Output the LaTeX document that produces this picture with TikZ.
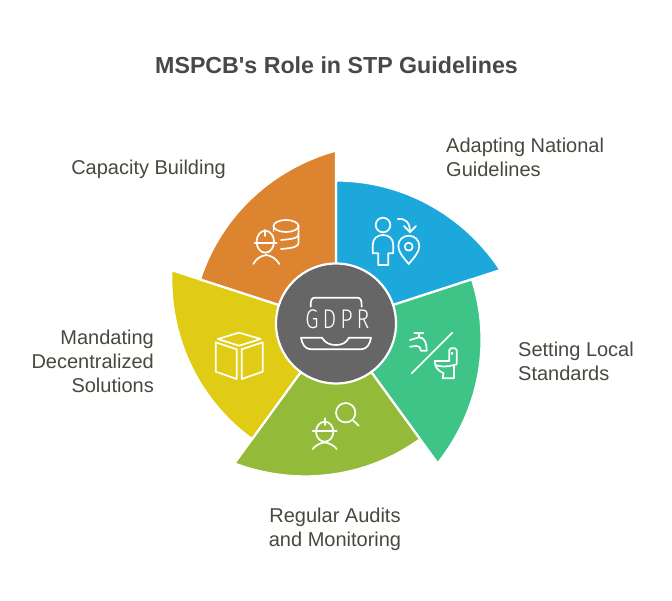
\documentclass[tikz,border=0pt]{standalone}
\usepackage{fontspec}
\setmainfont{Liberation Sans}
\newfontfamily\plainfont{Liberation Sans}
\newfontfamily\gdprfont{Fira Sans Light}
\definecolor{cOrange}{HTML}{DD8431}
\definecolor{cBlue}{HTML}{1DA8DC}
\definecolor{cGreen}{HTML}{3EC487}
\definecolor{cOlive}{HTML}{93BA38}
\definecolor{cYellow}{HTML}{E0CC14}
\definecolor{cGray}{HTML}{666666}
\definecolor{cTitle}{HTML}{484848}
\definecolor{cLabel}{HTML}{4A483E}
\tikzset{
  wedgeshape/.style={draw=white,line width=2.2pt,line join=round},
  icon/.style={draw=white,line width=1.7pt,line cap=round,line join=round,fill=none},
  lab/.style={text=cLabel,font=\fontsize{20}{24}\selectfont,inner sep=0pt},
}
\newcommand{\petal}[2]{%
  \fill[#2] (336,323.5) -- plot[domain=0:1,samples=40,variable=\t]
    ({336+(143+30*\t*\t)*cos(#1-72*\t)},{323.5-(143+30*\t*\t)*sin(#1-72*\t)}) -- cycle;
  \draw[wedgeshape] (336,323.5) -- plot[domain=0:1,samples=40,variable=\t]
    ({336+(143+30*\t*\t)*cos(#1-72*\t)},{323.5-(143+30*\t*\t)*sin(#1-72*\t)}) -- cycle;
}
\begin{document}
\begin{tikzpicture}[x=1pt,y=-1pt]
\useasboundingbox[fill=white] (0,0) rectangle (672,601);
\petal{90}{cBlue}
\petal{18}{cGreen}
\petal{-54}{cOlive}
\petal{-126}{cYellow}
\petal{162}{cOrange}
\node[circle,fill=cGray,draw=white,line width=2.2pt,minimum size=120pt,inner sep=0pt] (hub) at (336,323.5) {};
% laptop
\draw[icon] (310.7,306.7) .. controls (310.7,300) and (311.5,297.7) .. (315,297.7) -- (357.3,297.7) .. controls (360.8,297.7) and (361.7,300) .. (361.7,306.7);
\node[text=white,xscale=.8,font=\gdprfont\fontsize{27}{28}\selectfont,inner sep=0pt] (gdpr) at (337.3,319.5) {G\hspace{5pt}D\hspace{5pt}P\hspace{5pt}R};
\draw[icon] (301,337.7) -- (322,337.7) .. controls (325,343) and (330,345) .. (336,345) .. controls (342,345) and (346,343) .. (349,337.7) -- (371,337.7) .. controls (370,344) and (367,349.3) .. (361,349.3) -- (311,349.3) .. controls (305,349.3) and (302,344) .. (301,337.7);
% blue icon
\draw[icon] (383,225) circle[radius=7.3];
\draw[icon] (378.3,253.3) -- (378.3,265) -- (388.3,265) -- (388.3,253.3) -- (393.3,253.3) -- (393.3,245) .. controls (393.3,238) and (388,235) .. (383,235) .. controls (378,235) and (372.7,238) .. (372.7,245) -- (372.7,253.3) -- cycle;
\draw[icon] (408.7,264) .. controls (403,257) and (398.3,252) .. (398.3,246) .. controls (398.3,240) and (403,235.7) .. (408.7,235.7) .. controls (414.5,235.7) and (419.3,240) .. (419.3,246) .. controls (419.3,252) and (414.5,257) .. (408.7,264) -- cycle;
\draw[icon] (408.7,246.7) circle[radius=4];
\draw[icon] (397.7,219) .. controls (405,218) and (410,222) .. (410,232);
\draw[icon] (404,226) -- (410,232.3) -- (416,226);
% green icon
\draw[icon] (411.7,373.3) -- (452.3,332.7);
\draw[icon] (414.3,333.3) -- (423.3,333.3) (419,333.3) -- (419,337.3);
\draw[icon] (410,340) -- (419,337.3) .. controls (424,337.3) and (426.7,342) .. (426.7,350.7) -- (420.7,350.7) .. controls (420.7,347) and (418,345.5) .. (416,346) -- (410,346.7);
\draw[icon] (449.3,361) -- (449.3,350) .. controls (449.3,348.8) and (450,348.3) .. (451,348.3) -- (455,348.3) .. controls (456,348.3) and (456.7,348.8) .. (456.7,350) -- (456.7,363.5) .. controls (456.7,364.5) and (456,365) .. (454,365) -- (454,378.3) -- (442.7,378.3) -- (443.5,373) .. controls (438,371) and (434.7,367) .. (434.7,361) -- (449.3,361);
\draw[icon] (435.5,365) .. controls (440,367) and (448,367) .. (454,365);
\draw[icon] (452,353.3) circle[radius=.6];
% olive icon
\draw[icon] (345.7,412.7) circle[radius=9.7];
\draw[icon] (352.7,420) -- (358.7,425.7);
\draw[icon] (324.7,431.7) ellipse[x radius=8.7,y radius=10];
\draw[icon] (312.7,431) -- (336.7,431) (324.7,418.3) -- (324.7,425);
\draw[icon] (312.7,449) .. controls (316,445) and (320,443) .. (324.7,442.5) .. controls (329,443) and (333.5,445) .. (336.7,449);
% yellow icon
\draw[icon] (217.7,339) -- (239,332.7) -- (260.7,339) -- (239,345.7) -- cycle;
\draw[icon] (215.7,342.3) -- (236.7,349.3) -- (236.7,379) -- (215.7,371.7) -- cycle;
\draw[icon] (241.7,349.3) -- (262.7,342.3) -- (262.7,371.7) -- (241.7,379) -- cycle;
% orange icon
\draw[icon] (286,226) ellipse[x radius=12.5,y radius=6];
\draw[icon] (298.5,226) -- (298.5,243) .. controls (298.5,246) and (295,248) .. (281,249);
\draw[icon] (298.5,234.5) .. controls (298.5,238) and (293,239) .. (281,240);
\draw[icon] (273.5,226) -- (273.5,231);
\draw[icon] (265.3,241.7) ellipse[x radius=8.7,y radius=11];
\draw[icon] (254.7,242.7) -- (276.7,242.7) (265.3,230) -- (265.3,236);
\draw[icon] (253.3,264) .. controls (256,259) and (260,256) .. (266.3,255) .. controls (272,256) and (276.5,259) .. (279.3,264);
% text
\node[text=cTitle,font=\plainfont\bfseries\fontsize{23.2}{28}\selectfont,inner sep=0pt] (title) at (336.5,65) {MSPCB's Role in STP Guidelines};
\node[lab,align=left,anchor=west] (l1) at (446,157) {Adapting National\\Guidelines};
\node[lab,align=left,anchor=west] (l2) at (518,361) {Setting Local\\Standards};
\node[lab,align=center] (l3) at (335,529) {Regular Audits\\and Monitoring};
\node[lab,align=right,anchor=east] (l4) at (154,361) {Mandating\\Decentralized\\Solutions};
\node[lab,anchor=east] (l5) at (226,169) {Capacity Building};
\end{tikzpicture}
\end{document}
